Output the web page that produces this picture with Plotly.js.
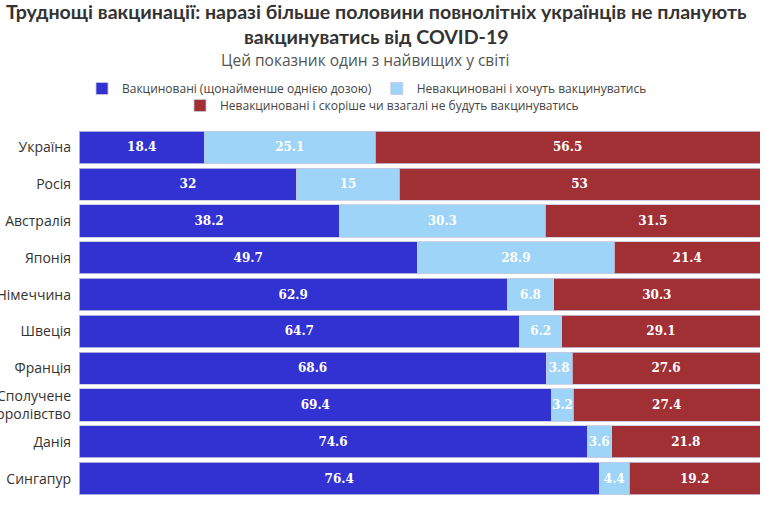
<!DOCTYPE html>
<html>
<head>
<meta charset="utf-8">
<script src="https://cdn.plot.ly/plotly-3.0.1.min.js"></script>
<style>html,body{margin:0;padding:0;background:#fff;}#chart{width:769px;height:511px;}</style>
</head>
<body>
<div id="chart"></div>
<script>
const countries = ["Україна","Росія","Австралія","Японія","Німеччина","Швеція","Франція","Сполучене<br>Королівство","Данія","Сингапур"];
const vaccinated = [18.4,32,38.2,49.7,62.9,64.7,68.6,69.4,74.6,76.4];
const wantVaccine = [25.1,15,30.3,28.9,6.8,6.2,3.8,3.2,3.6,4.4];
const wontVaccinate = [56.5,53,31.5,21.4,30.3,29.1,27.6,27.4,21.8,19.2];
const seriesNames = ["Вакциновані (щонайменше однією дозою)","Невакциновані і хочуть вакцинуватись","Невакциновані і скоріше чи взагалі не будуть вакцинуватись"];
const colors = ["#3232d2","#9dd4f7","#a03033"];
const titleText = "<b>Труднощі вакцинації: наразі більше половини повнолітніх українців не планують<br>вакцинуватись від COVID-19</b>";
const subtitleText = "Цей показник один з найвищих у світі";

const lbl = {family:"DejaVu Serif", size:12, color:"#ffffff", weight:"bold"};
const legendIds = ["legend","legend","legend2"];
const mk = (vals, i) => ({
  type:"bar", orientation:"h", name:seriesNames[i], y:countries, x:vals,
  legend:legendIds[i],
  marker:{color:colors[i], line:{color:"rgba(200,200,225,0.8)", width:1}},
  text:vals.map(v => String(v)), textposition:"inside", insidetextanchor:"middle",
  textangle:0, constraintext:"none",
  insidetextfont:lbl, hoverinfo:"x+y"
});
const data = [mk(vaccinated,0), mk(wantVaccine,1), mk(wontVaccinate,2)];
// paper coords from pixel positions: plot area x 79..760, y 129..497
const py = p => (497 - p) / 368;
const px = p => (p - 79) / 681;
const legFont = {family:"Open Sans", size:12, color:"#444"};
const layout = {
  width:769, height:511, barmode:"stack", bargap:0.12,
  paper_bgcolor:"#fff", plot_bgcolor:"#fff",
  margin:{l:79, r:9, t:129, b:14},
  font:{family:"Open Sans", color:"#333"},
  xaxis:{range:[0,100], visible:false, fixedrange:true},
  yaxis:{autorange:"reversed", tickfont:{family:"Open Sans", size:14, color:"#333"}, ticks:"", showline:false, showgrid:false, automargin:false, ticklabelstandoff:7},
  showlegend:true,
  legend:{orientation:"h", x:px(367), xanchor:"center", y:py(74), yanchor:"top", font:legFont, traceorder:"normal", itemwidth:30, bgcolor:"rgba(0,0,0,0)"},
  legend2:{orientation:"h", x:px(382), xanchor:"center", y:py(91), yanchor:"top", font:legFont, traceorder:"normal", itemwidth:30, bgcolor:"rgba(0,0,0,0)"},
  annotations:[
    {text:titleText, xref:"paper", yref:"paper", x:px(376), y:py(24), xanchor:"center", yanchor:"middle", showarrow:false, align:"center", font:{family:"Lato", size:19.6, color:"#333"}},
    {text:subtitleText, xref:"paper", yref:"paper", x:px(365), y:py(60), xanchor:"center", yanchor:"middle", showarrow:false, font:{family:"Open Sans", size:15.5, color:"#555"}}
  ]
};
Plotly.newPlot("chart", data, layout, {displayModeBar:false, staticPlot:true});
</script>
</body>
</html>
